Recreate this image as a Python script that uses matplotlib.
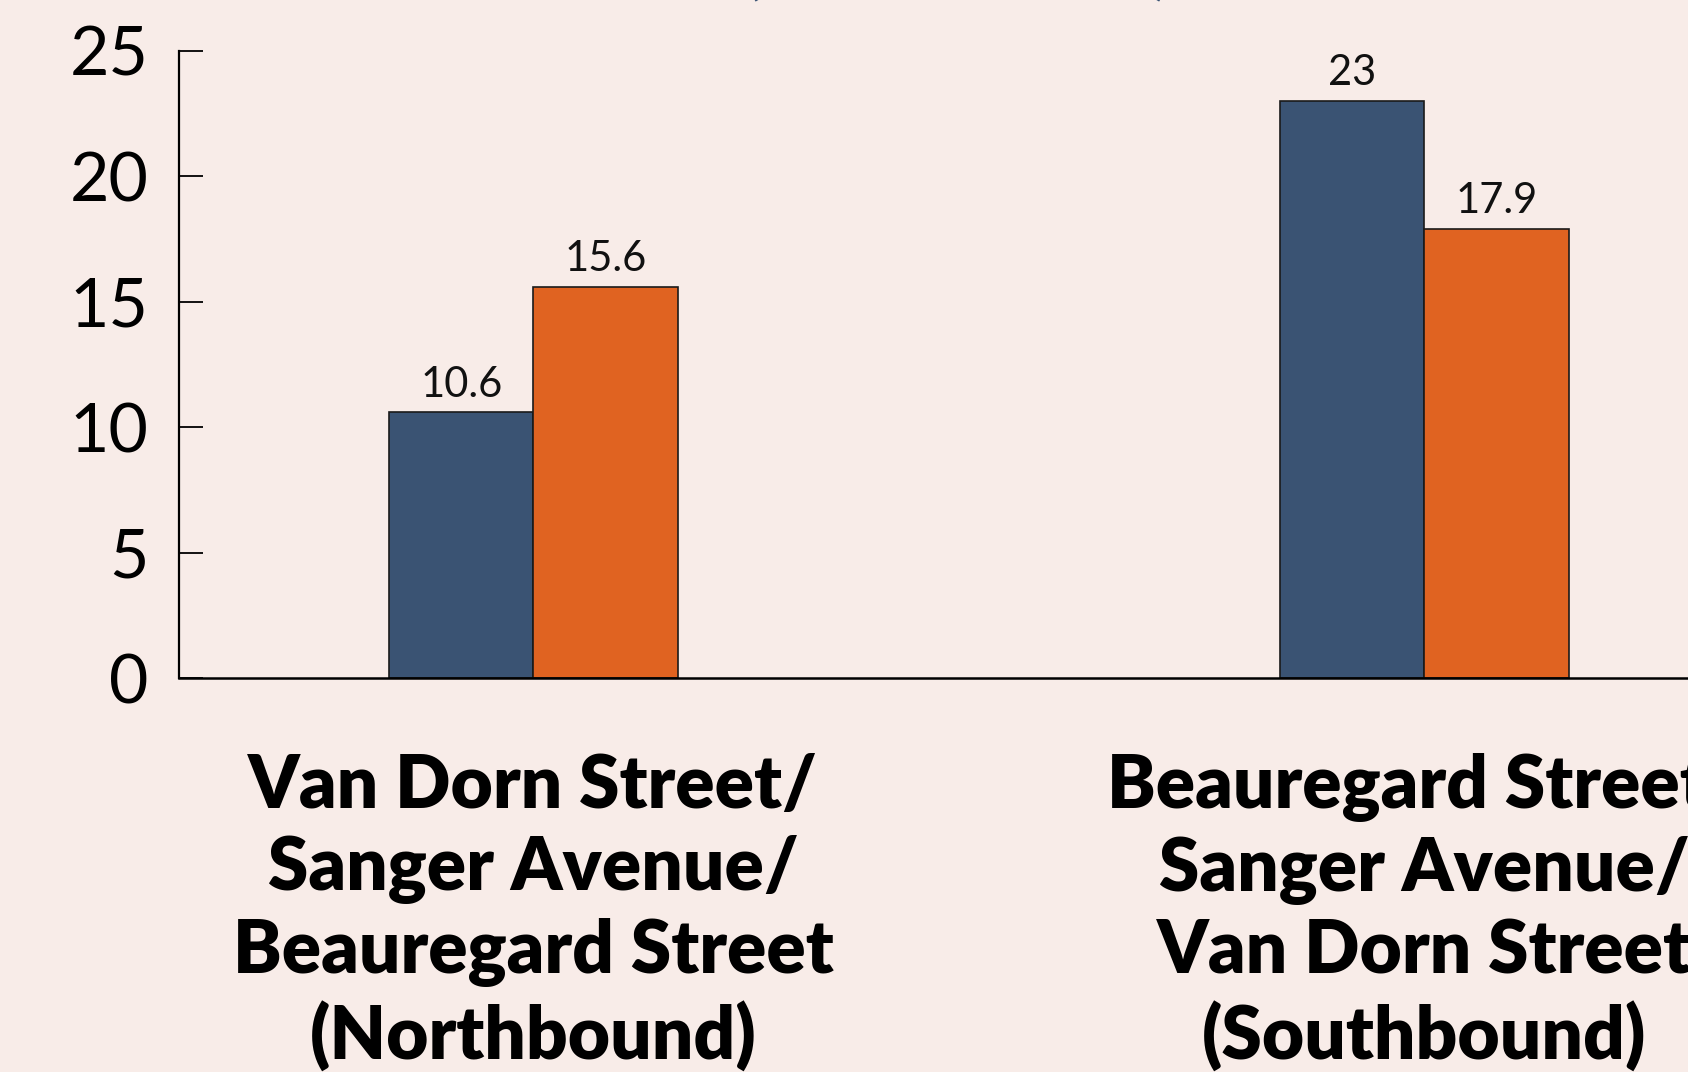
import matplotlib
matplotlib.use('Agg')
import matplotlib.pyplot as plt
import numpy as np

# categories and values
categories = ["Van Dorn Street/\nSanger Avenue/\nBeauregard Street\n(Northbound)",
              "Beauregard Street/\nSanger Avenue/\nVan Dorn Street\n(Southbound)"]
series_a = [10.6, 23]      # blue bars
series_b = [15.6, 17.9]    # orange bars
labels_a = ["10.6", "23"]
labels_b = ["15.6", "17.9"]
yticks = [0, 5, 10, 15, 20, 25]
title_text = "(in minutes)"

BG = "#f8ece8"
BLUE = "#3a5373"
ORANGE = "#e06321"

plt.rcParams['font.family'] = ['Lato', 'DejaVu Sans']

fig = plt.figure(figsize=(16.88, 10.72), dpi=100, facecolor=BG)
# axes runs past the right edge of the picture, as in the reference
ax = fig.add_axes([0.1059, 0.3674, 0.948, 0.5854])
ax.set_facecolor(BG)

r = np.arange(len(categories))
barWidth = 0.162
ax.bar(r - barWidth/2, series_a, width=barWidth, color=BLUE, edgecolor='#1a1a1a', linewidth=1.2)
ax.bar(r + barWidth/2, series_b, width=barWidth, color=ORANGE, edgecolor='#1a1a1a', linewidth=1.2)

for i in range(len(r)):
	ax.annotate(labels_a[i], (r[i] - barWidth/2, series_a[i]), xytext=(0, 6), textcoords='offset points',
		ha='center', va='bottom', fontsize=30, color='#111111')
	ax.annotate(labels_b[i], (r[i] + barWidth/2, series_b[i]), xytext=(0, 6), textcoords='offset points',
		ha='center', va='bottom', fontsize=30, color='#111111')

ax.set_xlim(-0.398, 1.398)
ax.set_ylim(0, 25)
ax.set_yticks(yticks)
ax.set_yticklabels([str(t) for t in yticks], fontsize=49)
ax.tick_params(axis='y', direction='in', length=17, width=1.3, pad=22)
ax.set_xticks(r)
ax.set_xticklabels(categories, fontsize=52.5, fontweight='heavy', linespacing=1.25)
ax.tick_params(axis='x', length=0, pad=54)

for s in ['top', 'right']:
	ax.spines[s].set_visible(False)
ax.spines['left'].set_linewidth(1.6)
ax.spines['bottom'].set_linewidth(1.8)

# title sits above the picture, only its descenders show
fig.text(0.5673, 1 + 12/1072, title_text, ha='center', va='baseline', fontsize=59,
	fontweight='heavy', color=BLUE)

fig.savefig('out.png', dpi=100, facecolor=BG)
